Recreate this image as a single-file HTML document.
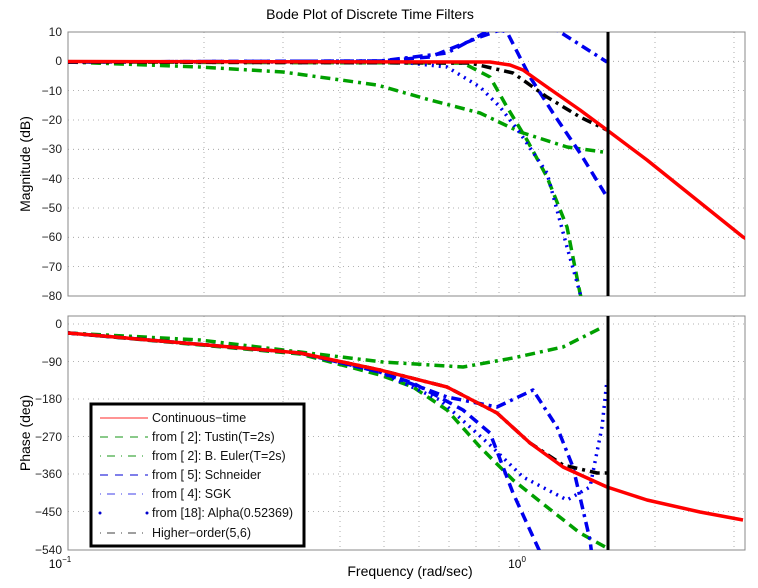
<!DOCTYPE html>
<html><head><meta charset="utf-8"><style>
body{margin:0;background:#fff;}
svg{display:block;font-family:"Liberation Sans",sans-serif;}
</style></head><body>
<svg width="758" height="588" viewBox="0 0 758 588" xmlns="http://www.w3.org/2000/svg">
<rect width="758" height="588" fill="#fff"/>
<text x="370" y="19" font-size="14" text-anchor="middle">Bode Plot of Discrete Time Filters</text>
<!-- grids -->
<g stroke="#999" stroke-width="0.8" stroke-dasharray="1,4">
<path d="M204 32V296M283 32V296M340 32V296M384 32V296M419 32V296M449 32V296M476 32V296M499 32V296M519 32V296M655 32V296M734 32V296"/>
<path d="M68 61.3H745M68 90.6H745M68 120H745M68 149.3H745M68 178.6H745M68 208H745M68 237.3H745M68 266.6H745"/>
<path d="M204 316V550M283 316V550M340 316V550M384 316V550M419 316V550M449 316V550M476 316V550M499 316V550M519 316V550M655 316V550M734 316V550"/>
<path d="M68 324H745M68 361.5H745M68 399H745M68 436.5H745M68 474H745M68 511.5H745"/>
</g>
<rect x="68" y="32" width="677" height="264" fill="none" stroke="#888" stroke-width="1"/>
<rect x="68" y="316" width="677" height="234" fill="none" stroke="#888" stroke-width="1"/>
<g font-size="12" text-anchor="end" fill="#222">
<text x="62" y="36">10</text><text x="62" y="65">0</text><text x="62" y="95">−10</text><text x="62" y="124">−20</text><text x="62" y="153">−30</text><text x="62" y="183">−40</text><text x="62" y="212">−50</text><text x="62" y="241">−60</text><text x="62" y="271">−70</text><text x="62" y="300">−80</text>
<text x="62" y="328">0</text><text x="62" y="366">−90</text><text x="62" y="403">−180</text><text x="62" y="441">−270</text><text x="62" y="478">−360</text><text x="62" y="516">−450</text><text x="62" y="554">−540</text>
</g>
<text x="60" y="568" font-size="12" text-anchor="middle">10<tspan font-size="8" dy="-6">−1</tspan></text>
<text x="517" y="568" font-size="12" text-anchor="middle">10<tspan font-size="8" dy="-6">0</tspan></text>
<text x="410" y="576" font-size="14" text-anchor="middle">Frequency  (rad/sec)</text>
<text transform="translate(30,164) rotate(-90)" font-size="14" text-anchor="middle">Magnitude (dB)</text>
<text transform="translate(30,433) rotate(-90)" font-size="14" text-anchor="middle">Phase (deg)</text>
<defs>
<clipPath id="c1"><rect x="68" y="32" width="677" height="264"/></clipPath>
<clipPath id="c2"><rect x="68" y="316" width="677" height="234"/></clipPath>
</defs>
<g clip-path="url(#c1)" fill="none" stroke-width="3.5" stroke-linejoin="round">
<polyline stroke="#00a000" stroke-dasharray="10,5,3,5" points="68,62 200,67 283,72 377,85 430,100 480,113 520,132 567,147 603,152"/>
<polyline stroke="#00a000" stroke-dasharray="10,6" points="68,62 463,63 490,77 507,107 527,140 547,177 567,227 580,293 584,310"/>
<polyline stroke="#0000ee" stroke-dasharray="10,6" points="68,62 380,61 430,57 480,37 500,30 507,32 530,77 553,113 580,153 607,197"/>
<polyline stroke="#0000ee" stroke-dasharray="10,5,3,5" points="68,62 380,61 447,53 490,30 497,26 540,20 560,32 607,62"/>
<polyline stroke="#0000ee" stroke-dasharray="2,5" points="68,62 400,62 447,67 480,87 500,107 520,133 547,173 567,247 580,293 582,310"/>
<polyline stroke="#000" stroke-dasharray="10,5,3,5" points="68,62 470,63 513,73 547,97 580,117 607,130"/>
<polyline stroke="#f00" points="68,61.5 490,62 510,65 523,70 547,87 580,110 607,130 647,160 743,237 750,241"/>
</g>
<g clip-path="url(#c2)" fill="none" stroke-width="3.5" stroke-linejoin="round">
<polyline stroke="#00a000" stroke-dasharray="10,5,3,5" points="68,333 200,340 300,352 383,362 463,367 513,358 563,347 603,327"/>
<polyline stroke="#00a000" stroke-dasharray="10,6" points="68,333 300,354 380,375 413,387 447,410 480,447 513,480 547,507 580,533 607,548"/>
<polyline stroke="#0000ee" stroke-dasharray="10,6" points="68,333 300,353 380,372 413,383 463,410 490,433 513,493 540,552"/>
<polyline stroke="#0000ee" stroke-dasharray="10,5,3,5" points="68,333 300,353 380,372 447,397 497,407 533,390 557,427 573,467 590,540 592,556"/>
<polyline stroke="#0000ee" stroke-dasharray="2,5" points="68,333 300,353 380,372 440,400 490,445 523,477 567,500 590,487 602,427 607,380"/>
<polyline stroke="#000" stroke-dasharray="10,5,3,5" points="68,333 300,353 380,370 447,387 497,413 530,443 563,465 597,473 607,473"/>
<polyline stroke="#f00" points="68,333 300,353 380,370 447,387 497,413 530,443 563,467 607,487 647,500 700,512 743,520"/>
</g>
<line x1="608" y1="32" x2="608" y2="296" stroke="#000" stroke-width="3"/>
<line x1="608" y1="316" x2="608" y2="550" stroke="#000" stroke-width="3"/>
<!-- legend -->
<rect x="91" y="404" width="213" height="142" fill="#fff" stroke="#000" stroke-width="3"/>
<g stroke-width="1.2">
<line x1="100" y1="418" x2="148" y2="418" stroke="#f55"/>
<line x1="100" y1="437" x2="148" y2="437" stroke="#4a4" stroke-dasharray="8,7"/>
<line x1="100" y1="456" x2="148" y2="456" stroke="#4a4" stroke-dasharray="1,6,8,6"/>
<line x1="100" y1="475" x2="148" y2="475" stroke="#33d" stroke-dasharray="8,7"/>
<line x1="100" y1="494" x2="148" y2="494" stroke="#66e" stroke-dasharray="1,6,8,6"/>
<line x1="100" y1="533" x2="148" y2="533" stroke="#666" stroke-dasharray="1,6,8,6"/>
</g>
<circle cx="100" cy="513" r="1.5" fill="#00c"/><circle cx="147" cy="513" r="1.5" fill="#00c"/>
<g font-size="12.5" fill="#111">
<text x="152" y="422">Continuous−time</text>
<text x="152" y="441">from [ 2]: Tustin(T=2s)</text>
<text x="152" y="460">from [ 2]: B. Euler(T=2s)</text>
<text x="152" y="479">from [ 5]: Schneider</text>
<text x="152" y="498">from [ 4]: SGK</text>
<text x="152" y="517">from [18]: Alpha(0.52369)</text>
<text x="152" y="537">Higher−order(5,6)</text>
</g>
</svg>
</body></html>
